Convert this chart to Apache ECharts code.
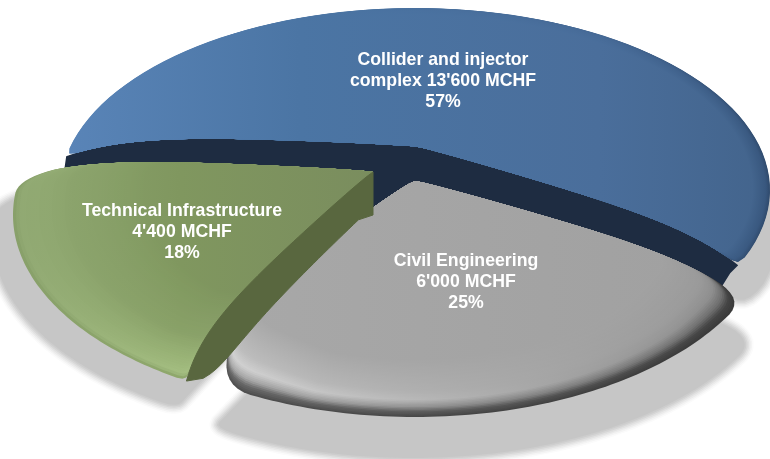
<!DOCTYPE html>
<html>
<head>
<meta charset="utf-8">
<style>html,body{margin:0;padding:0;background:#fff}#c{width:770px;height:459px}</style>
<script src="https://cdn.jsdelivr.net/npm/echarts@6/dist/echarts.min.js"></script>
</head>
<body>
<div id="c"></div>
<script>
// ---- data ----
const categories = ["Collider and injector\ncomplex ", "Civil Engineering\n", "Technical Infrastructure\n"];
const valueLabels = ["13'600 MCHF", "6'000 MCHF", "4'400 MCHF"];
const percentLabels = ["57%", "25%", "18%"];
const values = [13600, 6000, 4400];

// ---- layout / style (not data) ----
const START_ANGLE = 174.7, TILT = 0.095;
const layout = [
  { cx: 415, cy: 190, rx: 355, ry: 182, hub: [418, 147], bowS: 14, bowE: -14, roundS: [1, 1], roundE: [1, 1], rimPow: 5,
    shadow: { cx: 426, cy: 232, rx: 352, ry: 182, hub: [426, 189], bowS: 14, bowE: -14, roundS: [1, 2], roundE: [2, 3] },
    label: [443, 81.5],
    stops: [[70, '#5984b7'], [300, '#4b75a4'], [600, '#4a6e9b'], [770, '#43648c']],
    rim: [[0, '#5984b7', '#2f4a6c'], [0.012, '#5984b7', '#38577e'], [0.05, '#5984b7', '#43648c']] },
  { cx: 415, cy: 217, rx: 360, ry: 200, hub: [415, 181], bowS: -15, bowE: 32, roundS: [3, 4], roundE: [3, 4], rimPow: 1,
    shadow: { cx: 413, cy: 258, rx: 374, ry: 200, hub: [415, 222], bowS: -10, bowE: 0, roundS: [3, 4], roundE: [1, 3] },
    label: [466, 282.5],
    stops: [[230, '#a8a8a8'], [735, '#a0a0a0']],
    rim: [[0, '#505050', '#3a3a3a'], [0.02, '#6a6a6a', '#444444'], [0.04, '#a8a8a8', '#6c6c6c'],
          [0.07, '#d2d2d2', '#8a8a8a'], [0.11, '#bebebe', '#979797'], [0.24, '#a8a8a8', '#a0a0a0']] },
  { cx: 383, cy: 215, rx: 370, ry: 196, hub: [373, 172], bowS: 18, bowE: 14, roundS: [1, 2], roundE: [4, 5], rimPow: 1,
    shadow: { cx: 385, cy: 238, rx: 392, ry: 200, hub: [375, 195], bowS: 0, bowE: 14, roundS: [1, 3], roundE: [4, 5] },
    label: [182, 232.5],
    stops: [[13, '#8ca46e'], [180, '#80975f'], [373, '#7a8d5e']],
    rim: [[0, '#88a06a', '#9fb57f'], [0.014, '#90a872', '#c4dca4'], [0.05, '#8fa771', '#b4cc94'],
          [0.16, '#8ca46e', '#8ea272'], [0.36, '#8ca46e', '#7a8d5e']] }
];
const NAVY = '#1e2c41', OLIVE = '#59673f';
const SHADOW_LEVELS = [[18, '#fbfbfb'], [15, '#f4f4f4'], [12, '#ebebeb'], [9, '#e1e1e1'], [6, '#d6d6d6'], [3, '#cdcdcd'], [0, '#c6c6c6']];
const FONT = '"Liberation Sans", Arial, sans-serif';
const EDGE_N = 40, ARC_N = 80;

const total = values.reduce((a, b) => a + b, 0);

function hex(c) { return [1, 3, 5].map(i => parseInt(c.substr(i, 2), 16)); }
function mix(a, b, t) {
  const A = hex(a), B = hex(b);
  return '#' + A.map((x, i) => Math.round(x + (B[i] - x) * t).toString(16).padStart(2, '0')).join('');
}
function rimAt(rim, d) {
  for (let i = 1; i < rim.length; i++) {
    if (d <= rim[i][0]) {
      const t = (d - rim[i - 1][0]) / (rim[i][0] - rim[i - 1][0]);
      return [mix(rim[i - 1][1], rim[i][1], t), mix(rim[i - 1][2], rim[i][2], t)];
    }
  }
  const l = rim[rim.length - 1];
  return [l[1], l[2]];
}
function diskPoint(deg, g) {
  const a = deg * Math.PI / 180, u = Math.cos(a), v = Math.sin(a), d = 1 + TILT * v;
  const U = u * Math.sqrt(1 - TILT * TILT) / d, V = (v + TILT) / d;
  return [g.cx + g.rx * U, g.cy - g.ry * V];
}
function sliceAngles(i) {
  let before = 0;
  for (let k = 0; k < i; k++) before += values[k];
  return [START_ANGLE - before / total * 360, START_ANGLE - (before + values[i]) / total * 360];
}
function bowFn(s) { return 1.6 * (1 - Math.pow(s, 5)) * Math.pow(s, 0.8); }
function edge(hub, p, bow, smax) {
  const dx = p[0] - hub[0], dy = p[1] - hub[1], L = Math.hypot(dx, dy), out = [];
  for (let j = 0; j <= EDGE_N; j++) {
    const s = smax * j / EDGE_N, b = bow * bowFn(s);
    out.push([hub[0] + dx * s - dy / L * b, hub[1] + dy * s + dx / L * b]);
  }
  return out;
}
function roundCorner(poly, c, m0, m1) {
  const A = poly[c - m0], B = poly[c], C = poly[c + m1], n = m0 + m1;
  for (let j = 1; j < n; j++) {
    const t = j / n, r = 1 - t;
    poly[c - m0 + j] = [r * r * A[0] + 2 * r * t * B[0] + t * t * C[0], r * r * A[1] + 2 * r * t * B[1] + t * t * C[1]];
  }
}
// outline of a slice: sweep comes from the values; s < 1 pulls only the outer arc towards the hub
function outline(i, g, s) {
  const [a0, a1] = sliceAngles(i), arc = [];
  for (let j = 0; j <= ARC_N; j++) {
    const p = diskPoint(a0 + (a1 - a0) * j / ARC_N, g);
    arc.push([g.hub[0] + (p[0] - g.hub[0]) * s, g.hub[1] + (p[1] - g.hub[1]) * s]);
  }
  const P0 = diskPoint(a0, g), P1 = diskPoint(a1, g);
  const e0 = edge(g.hub, P0, g.bowS, s), e1 = edge(g.hub, P1, g.bowE, s);
  const d0 = [e0[EDGE_N][0] - arc[0][0], e0[EDGE_N][1] - arc[0][1]];
  const d1 = [e1[EDGE_N][0] - arc[ARC_N][0], e1[EDGE_N][1] - arc[ARC_N][1]];
  const blend = 12;
  arc.forEach((p, j) => {
    const w0 = Math.max(0, 1 - j / blend), w1 = Math.max(0, 1 - (ARC_N - j) / blend);
    p[0] += d0[0] * w0 + d1[0] * w1;
    p[1] += d0[1] * w0 + d1[1] * w1;
  });
  const poly = e0.concat(arc.slice(1, ARC_N), e1.slice().reverse());
  roundCorner(poly, EDGE_N, g.roundS[0], g.roundS[1]);
  roundCorner(poly, EDGE_N + ARC_N, g.roundE[1], g.roundE[0]);
  return { poly, e0, e1, arc, P0, P1 };
}

function renderShadow(params) {
  const i = params.dataIndex, L = layout[i];
  const o = outline(i, L.shadow, 1);
  const kids = SHADOW_LEVELS.map((lv, k) => ({
    type: 'polygon', z2: k, shape: { points: o.poly },
    style: { fill: lv[1], stroke: lv[0] ? lv[1] : null, lineWidth: lv[0], lineJoin: 'round' } }));
  return { type: 'group', children: kids };
}

function renderSlice(params) {
  const i = params.dataIndex, L = layout[i], kids = [];
  const o = outline(i, L, 1);
  if (i === 0) {
    const off = p => [p[0] - 3, p[1] + 34];
    const top = o.e0.slice().reverse().concat(o.e1);
    const low = o.e1.slice(0, 35).map(off).reverse();
    const well = [L.hub[0] - 28, L.hub[1] + 85];
    const lowL = o.e0.slice(2, 38).map(off).reverse();
    kids.push({ type: 'polygon', shape: { points: top.concat([[o.P1[0] - 8, o.P1[1] + 8], [o.P1[0] - 18, o.P1[1] + 24]], low, [well], lowL, [[o.P0[0] - 2, o.P0[1] + 14]]) },
      style: { fill: NAVY } });
  }
  const xs = L.stops.map(s => s[0]), x0 = xs[0], x1 = xs[xs.length - 1];
  const layers = 40, maxD = L.rim[L.rim.length - 1][0];
  const rest = L.rim[L.rim.length - 1];
  for (let k = 0; k <= layers; k++) {
    const d = maxD * k / layers;
    const pts = outline(i, L, 1 - d).poly;
    const r = rimAt(L.rim, d);
    const fill = new echarts.graphic.LinearGradient(x0, 0, x1, 0, L.stops.map(st => {
      const t = (st[0] - x0) / (x1 - x0), tp = Math.pow(t, L.rimPow);
      const restColor = hex(mix(rest[1], rest[2], tp)), rimColor = hex(mix(r[0], r[1], tp));
      const col = hex(st[1]).map((v, c) => Math.max(0, Math.min(255, v + rimColor[c] - restColor[c])));
      return { offset: t, color: 'rgb(' + col.map(Math.round).join(',') + ')' };
    }), true);
    kids.push({ type: 'polygon', shape: { points: pts }, style: { fill: fill } });
  }
  if (i === 2) {
    const e = o.e0, n = EDGE_N, hub = L.hub, low = [[hub[0], hub[1] + 43]];
    for (let j = 6; j <= n; j++) {
      const s = j / n;
      const a = e[Math.max(0, j - 1)], b = e[Math.min(n, j + 1)];
      const dx = b[0] - a[0], dy = b[1] - a[1], l = Math.hypot(dx, dy);
      const w = (26 + 10 * s) * Math.sqrt(Math.max(0, 1 - Math.pow(s, 8)));
      low.push([e[j][0] + dy / l * w, e[j][1] - dx / l * w]);
    }
    kids.push({ type: 'polygon', shape: { points: e.concat(low.slice().reverse()) },
      style: { fill: OLIVE, stroke: OLIVE, lineWidth: 1, lineJoin: 'round' } });
  }
  kids.push({ type: 'text', x: L.label[0], y: L.label[1],
    style: { text: categories[i] + valueLabels[i] + '\n' + percentLabels[i],
      fill: '#ffffff', font: 'bold 17.7px ' + FONT, lineHeight: 21, align: 'center', verticalAlign: 'middle' } });
  return { type: 'group', children: kids };
}

const chart = echarts.init(document.getElementById('c'), null, { renderer: 'canvas' });
chart.setOption({
  backgroundColor: '#ffffff',
  animation: false,
  tooltip: { show: false },
  series: [
    { type: 'custom', coordinateSystem: 'none', silent: true, z: 1, renderItem: renderShadow, data: values },
    { type: 'custom', coordinateSystem: 'none', silent: true, z: 2, renderItem: renderSlice, data: values }
  ]
});
</script>
</body>
</html>
